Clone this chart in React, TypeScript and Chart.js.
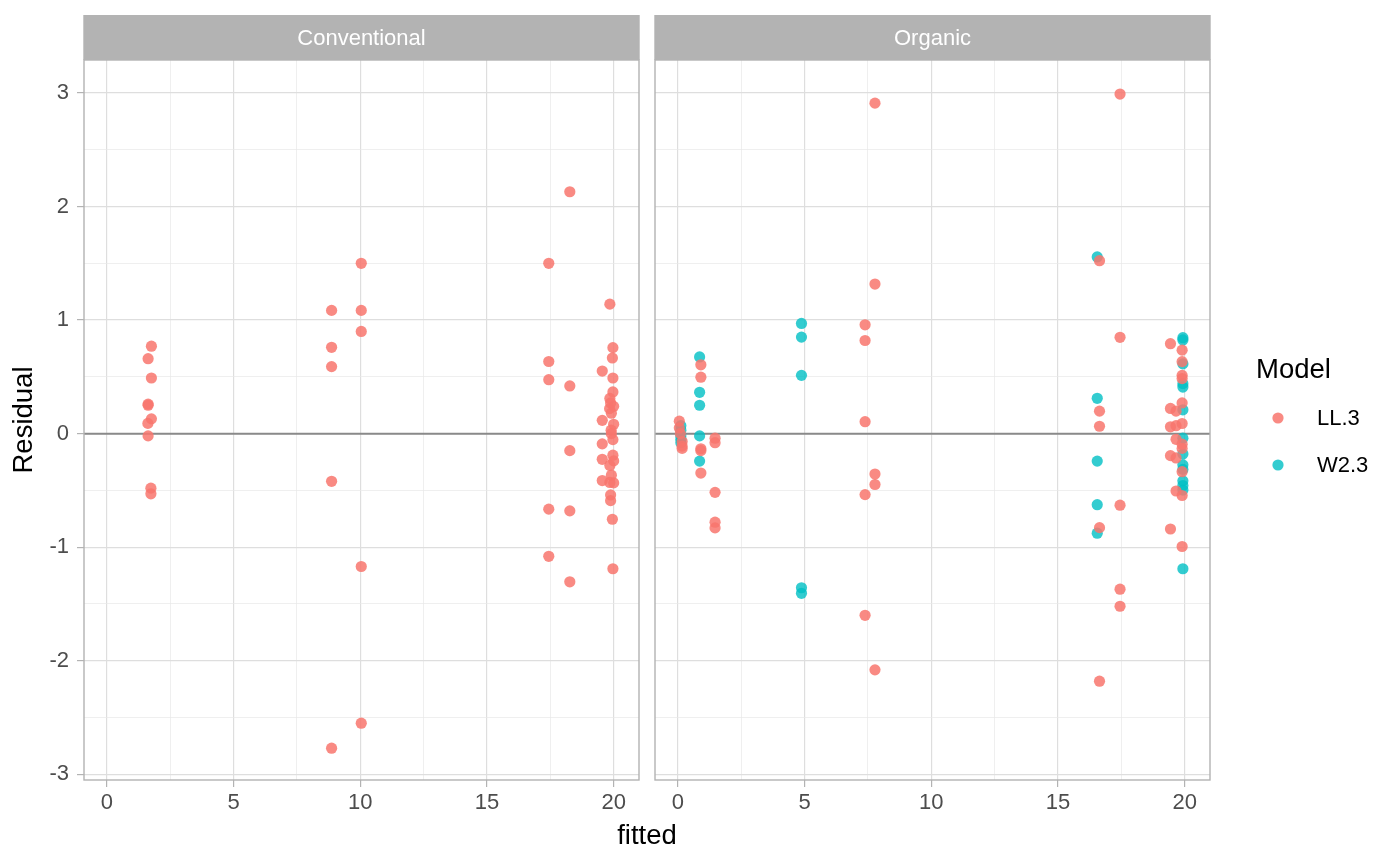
import React, { useEffect, useRef } from 'react';
import { Chart, registerables } from 'chart.js';

Chart.register(...registerables);

const FONT = "'Liberation Sans', Arial, sans-serif";

const panels = ['Conventional', 'Organic'];
const seriesNames = ['LL.3', 'W2.3'];
const seriesColors = ['rgba(248, 118, 109, 0.85)', 'rgba(0, 191, 196, 0.8)'];

const xTicks = [0, 2.5, 5, 7.5, 10, 12.5, 15, 17.5, 20];
const xTickLabels = ['0', '', '5', '', '10', '', '15', '', '20'];
const yTicks = [-3, -2.5, -2, -1.5, -1, -0.5, 0, 0.5, 1, 1.5, 2, 2.5, 3];
const yTickLabels = ['-3', '', '-2', '', '-1', '', '0', '', '1', '', '2', '', '3'];
const xMin = -0.9;
const xMax = 21.0;
const yMin = -3.05;
const yMax = 3.29;

// Conventional, LL.3
const convFitted = [
  1.76, 1.63, 1.76, 1.63, 1.63, 1.76, 1.62, 1.63, 1.74, 1.74,
  8.87, 8.87, 8.87, 8.87, 8.87,
  10.04, 10.04, 10.04, 10.04, 10.04,
  17.44, 17.44, 17.44, 17.44, 17.44,
  18.27, 18.27, 18.27, 18.27, 18.27,
  19.85, 19.97, 19.95, 19.55, 19.97, 19.97, 19.85, 19.88, 20.0, 19.84,
  19.91, 19.55, 20.0, 19.9, 19.91, 19.97, 19.55, 19.97, 19.55, 20.0,
  19.85, 19.91, 19.55, 19.85, 20.0, 19.88, 19.88, 19.95, 19.97,
];
const convResid = [
  0.77, 0.66, 0.49, 0.26, 0.25, 0.13, 0.09, -0.02, -0.48, -0.53,
  1.085, 0.76, 0.59, -0.42, -2.77,
  1.5, 1.085, 0.9, -1.17, -2.55,
  1.5, 0.635, 0.475, -0.665, -1.08,
  2.13, 0.42, -0.15, -0.68, -1.305,
  1.14, 0.757, 0.666, 0.551, 0.49, 0.367, 0.31, 0.27, 0.24, 0.22,
  0.18, 0.117, 0.082, 0.03, 0.0, -0.053, -0.09, -0.19, -0.226, -0.24,
  -0.28, -0.366, -0.413, -0.43, -0.434, -0.54, -0.59, -0.754, -1.19,
];

// Organic, LL.3
const orgLLFitted = [
  0.06, 0.06, 0.1, 0.17, 0.17, 0.17,
  0.91, 0.91, 0.91, 0.91, 0.91,
  1.47, 1.47, 1.47, 1.47, 1.47,
  7.39, 7.39, 7.39, 7.39, 7.39,
  7.78, 7.78, 7.78, 7.78, 7.78,
  16.64, 16.64, 16.64, 16.64, 16.64,
  17.45, 17.45, 17.45, 17.45, 17.45,
  19.44, 19.44, 19.44, 19.44, 19.44,
  19.66, 19.66, 19.66, 19.66, 19.66,
  19.9, 19.9, 19.9, 19.9, 19.9, 19.9, 19.9, 19.9, 19.9, 19.9, 19.9,
];
const orgLLResid = [
  0.11, 0.05, 0.0, -0.07, -0.11, -0.13,
  0.606, 0.497, -0.133, -0.15, -0.347,
  -0.04, -0.08, -0.517, -0.78, -0.83,
  0.958, 0.82, 0.105, -0.537, -1.6,
  2.91, 1.317, -0.356, -0.448, -2.08,
  1.523, 0.198, 0.065, -0.828, -2.18,
  2.99, 0.848, -0.63, -1.37, -1.52,
  0.792, 0.222, 0.06, -0.194, -0.84,
  0.198, 0.07, -0.05, -0.214, -0.505,
  0.735, 0.634, 0.513, 0.485, 0.27, 0.089, -0.093, -0.13, -0.335, -0.545, -0.994,
];

// Organic, W2.3
const orgW2Fitted = [
  0.12, 0.12, 0.12, 0.12, 0.12,
  0.86, 0.86, 0.86, 0.86, 0.86,
  4.88, 4.88, 4.88, 4.88, 4.88,
  16.55, 16.55, 16.55, 16.55, 16.55,
  19.93, 19.93, 19.93, 19.93, 19.93, 19.93, 19.93,
  19.93, 19.93, 19.93, 19.93, 19.93, 19.93, 19.93,
];
const orgW2Resid = [
  0.07, 0.03, -0.02, -0.05, -0.08,
  0.675, 0.364, 0.25, -0.02, -0.242,
  0.97, 0.85, 0.513, -1.357, -1.406,
  1.556, 0.311, -0.242, -0.626, -0.877,
  0.845, 0.825, 0.614, 0.44, 0.41, 0.21, -0.04,
  -0.18, -0.275, -0.315, -0.416, -0.457, -0.497, -1.19,
];

const toPoints = (xs: number[], ys: number[]) => xs.map((x, i) => ({ x, y: ys[i] }));

const isMajor = (v: number | undefined) => v !== undefined && Number.isInteger(v) && (v % 5 === 0 || Math.abs(v) <= 3);
const isMajorX = (v: number | undefined) => v !== undefined && v % 5 === 0;
const isMajorY = (v: number | undefined) => v !== undefined && Number.isInteger(v);

const tickFont = { size: 22, family: FONT };

function makeX() {
  return {
    type: 'linear',
    min: xMin,
    max: xMax,
    afterBuildTicks: (s: any) => { s.ticks = xTicks.map((v) => ({ value: v })); },
    afterFit: (s: any) => { s.height = 85; },
    border: { display: false },
    grid: {
      color: (c: any) => (isMajorX(c.tick?.value) ? '#DEDEDE' : '#E8E8E8'),
      lineWidth: (c: any) => (isMajorX(c.tick?.value) ? 1.2 : 0.7),
      tickLength: 7,
      tickWidth: 1.2,
      tickColor: (c: any) => (isMajorX(c.tick?.value) ? '#B3B3B3' : 'rgba(0,0,0,0)'),
    },
    ticks: {
      autoSkip: false,
      maxRotation: 0,
      padding: 3,
      color: '#4D4D4D',
      font: tickFont,
      callback: (v: number) => xTickLabels[xTicks.indexOf(v)] ?? '',
    },
    title: { display: false },
  };
}

function makeY(withLabels: boolean) {
  return {
    type: 'linear',
    min: yMin,
    max: yMax,
    afterBuildTicks: (s: any) => { s.ticks = yTicks.map((v) => ({ value: v })); },
    afterFit: (s: any) => { s.width = withLabels ? 84 : 0; },
    border: { display: false },
    grid: {
      color: (c: any) => (isMajorY(c.tick?.value) ? '#DEDEDE' : '#E8E8E8'),
      lineWidth: (c: any) => (isMajorY(c.tick?.value) ? 1.2 : 0.7),
      drawTicks: withLabels,
      tickLength: 7,
      tickWidth: 1.2,
      tickColor: (c: any) => (isMajorY(c.tick?.value) ? '#B3B3B3' : 'rgba(0,0,0,0)'),
    },
    ticks: {
      display: withLabels,
      autoSkip: false,
      padding: 8,
      color: '#4D4D4D',
      font: tickFont,
      callback: (v: number) => yTickLabels[yTicks.indexOf(v)] ?? '',
    },
    title: {
      display: withLabels,
      text: 'Residual',
      color: '#000000',
      font: { size: 27.5, family: FONT },
      padding: { top: 8, bottom: 0 },
    },
  };
}

// facet strip, zero line and panel border
function panelPlugin(stripLabel: string) {
  return {
    id: 'panelDecor',
    beforeDatasetsDraw(chart: any) {
      const { ctx, chartArea } = chart;
      const y0 = chart.scales.y.getPixelForValue(0);
      ctx.save();
      ctx.strokeStyle = '#8A8A8A';
      ctx.lineWidth = 2;
      ctx.beginPath();
      ctx.moveTo(chartArea.left, y0);
      ctx.lineTo(chartArea.right, y0);
      ctx.stroke();
      ctx.restore();
    },
    afterDatasetsDraw(chart: any) {
      const { ctx, chartArea } = chart;
      const { left, right, top, bottom } = chartArea;
      ctx.save();
      ctx.strokeStyle = '#B3B3B3';
      ctx.lineWidth = 1.4;
      ctx.strokeRect(left, top, right - left, bottom - top);
      ctx.fillStyle = '#B3B3B3';
      ctx.fillRect(left - 0.7, 15, right - left + 1.4, top - 15);
      ctx.fillStyle = '#FFFFFF';
      ctx.font = `22px ${FONT}`;
      ctx.textAlign = 'center';
      ctx.textBaseline = 'middle';
      ctx.fillText(stripLabel, (left + right) / 2, (15 + top) / 2 + 1);
      ctx.restore();
    },
  };
}

// x-axis title across both panels and the legend
const figurePlugin = {
  id: 'figureDecor',
  afterDraw(chart: any) {
    const { ctx } = chart;
    ctx.save();
    ctx.fillStyle = '#000000';
    ctx.font = `27.5px ${FONT}`;
    ctx.textAlign = 'center';
    ctx.textBaseline = 'alphabetic';
    ctx.fillText('fitted', (84 + 1210) / 2, 844);

    ctx.textAlign = 'left';
    ctx.fillText('Model', 1256, 378);
    ctx.font = `22px ${FONT}`;
    ctx.textBaseline = 'middle';
    chart.data.datasets.forEach((ds: any, i: number) => {
      const y = 418 + i * 47;
      ctx.fillStyle = ds.backgroundColor;
      ctx.beginPath();
      ctx.arc(1278, y, 5.6, 0, Math.PI * 2);
      ctx.fill();
      ctx.fillStyle = '#000000';
      ctx.fillText(ds.label, 1317, y + 1);
    });
    ctx.restore();
  },
};

const App = () => {
  const leftRef = useRef<HTMLCanvasElement>(null);
  const rightRef = useRef<HTMLCanvasElement>(null);

  useEffect(() => {
    document.body.style.margin = '0';
    if (!leftRef.current || !rightRef.current) return;

    const pointStyle = { pointRadius: 5.6, pointBorderWidth: 0, pointHoverRadius: 5.6 };

    const left = new Chart(leftRef.current, {
      type: 'scatter',
      data: {
        datasets: [
          { label: seriesNames[0], data: toPoints(convFitted, convResid), backgroundColor: seriesColors[0], ...pointStyle },
        ],
      },
      options: {
        responsive: false,
        animation: false,
        layout: { padding: { top: 60, right: 761, bottom: 0, left: 0 } },
        scales: { x: makeX() as any, y: makeY(true) as any },
        plugins: { legend: { display: false }, tooltip: { enabled: false } },
      },
      plugins: [panelPlugin(panels[0])],
    });

    const right = new Chart(rightRef.current, {
      type: 'scatter',
      data: {
        datasets: [
          { label: seriesNames[0], data: toPoints(orgLLFitted, orgLLResid), backgroundColor: seriesColors[0], ...pointStyle },
          { label: seriesNames[1], data: toPoints(orgW2Fitted, orgW2Resid), backgroundColor: seriesColors[1], ...pointStyle },
        ],
      },
      options: {
        responsive: false,
        animation: false,
        layout: { padding: { top: 60, right: 190, bottom: 0, left: 655 } },
        scales: { x: makeX() as any, y: makeY(false) as any },
        plugins: { legend: { display: false }, tooltip: { enabled: false } },
      },
      plugins: [panelPlugin(panels[1]), figurePlugin],
    });

    return () => {
      left.destroy();
      right.destroy();
    };
  }, []);

  const canvasStyle: React.CSSProperties = { position: 'absolute', left: 0, top: 0 };
  return (
    <div style={{ position: 'relative', width: 1400, height: 865, background: '#FFFFFF' }}>
      <canvas ref={leftRef} width={1400} height={865} style={canvasStyle} />
      <canvas ref={rightRef} width={1400} height={865} style={canvasStyle} />
    </div>
  );
};

export default App;
